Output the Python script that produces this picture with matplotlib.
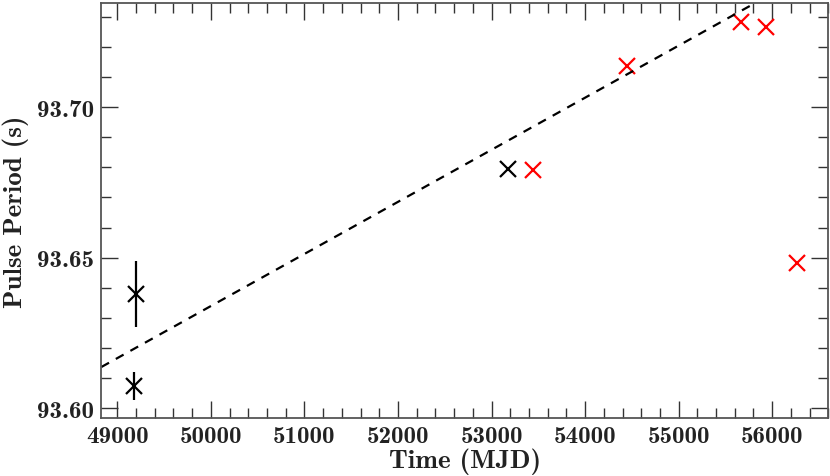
import matplotlib
matplotlib.use("Agg")
import matplotlib.pyplot as plt
import numpy as np
from matplotlib.ticker import MultipleLocator, FuncFormatter

plt.rcParams["axes.unicode_minus"] = False
BOLD = "cmb10"  # computer modern bold, shipped with matplotlib

# archival points (black) with errors
mjd_old = [49179, 49200, 53177]
per_old = [93.6074, 93.6379, 93.6795]
err_old = [0.0047, 0.011, 0.0]

# newer points (red)
mjd_new = [53444, 54445, 55670, 55938, 56267]
per_new = [93.6792, 93.7135, 93.7283, 93.7266, 93.6481]

# linear trend
fit_slope = 1.729e-5
fit_x0 = 48829
fit_y0 = 93.6137

fig = plt.figure(figsize=(8.3, 4.77), dpi=100)
ax = fig.add_axes([0.122, 0.121, 0.876, 0.871])

ax.errorbar(mjd_old, per_old, yerr=err_old, fmt="x", color="black",
            ms=11, mew=1.6, elinewidth=1.6, capsize=0)
ax.plot(mjd_new, per_new, "x", color="red", ms=11, mew=1.6)

xx = np.linspace(48829, 56600, 50)
ax.plot(xx, fit_y0 + fit_slope * (xx - fit_x0), "--", color="black",
        lw=1.6, dashes=(4, 3.5))

ax.set_xlim(48829, 56600)
ax.set_ylim(93.5967, 93.7346)

ax.xaxis.set_major_locator(MultipleLocator(1000))
ax.xaxis.set_minor_locator(MultipleLocator(200))
ax.yaxis.set_major_locator(MultipleLocator(0.05))
ax.yaxis.set_minor_locator(MultipleLocator(0.01))
ax.xaxis.set_major_formatter(FuncFormatter(lambda v, p: "%d" % v))
ax.yaxis.set_major_formatter(FuncFormatter(lambda v, p: "%.2f" % v))

ax.tick_params(which="both", direction="in", top=True, right=True,
               labelsize=18, color="#333333", width=1.0,
               labelfontfamily=BOLD, labelcolor="#222222")
ax.tick_params(which="major", length=12, pad=5)
ax.tick_params(which="minor", length=7)
for s in ax.spines.values():
    s.set_color("#555555")
    s.set_linewidth(1.3)

ax.set_xlabel("Time (MJD)", fontsize=19.5, family=BOLD, labelpad=0, color="#222222")
ax.set_ylabel("Pulse Period (s)", fontsize=19.5, family=BOLD, labelpad=6, color="#222222")

fig.savefig("out.png", dpi=100)
